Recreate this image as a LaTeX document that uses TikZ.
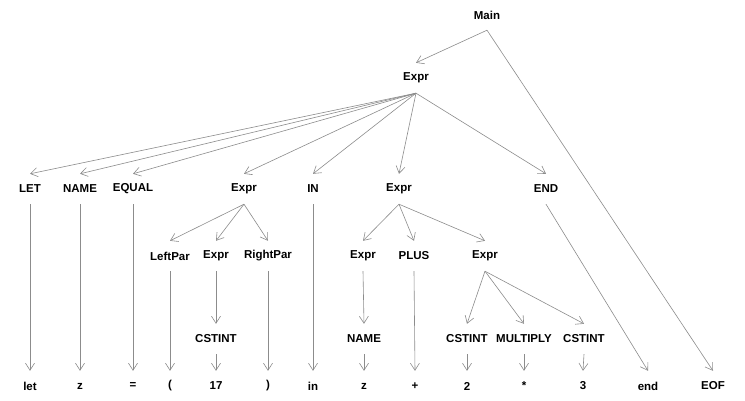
\documentclass[tikz,border=0pt]{standalone}
\usepackage{fontspec}
\setmainfont{Liberation Sans}
\usetikzlibrary{arrows.meta}
\tikzset{
  tn/.style={inner sep=0pt, minimum height=30pt, font=\fontsize{11.5}{12}\selectfont\bfseries, text=black},
  edge/.style={draw=black!45, line width=0.6pt, -{Straight Barb[length=7pt,width=9pt]}}
}
\begin{document}
\begin{tikzpicture}[x=1pt,y=-1pt]
\useasboundingbox[fill=white] (0,0) rectangle (745,401);
% level 0/1
\node[tn] (main) at (487,15) {Main};
\node[tn] (e1) at (416,78) {Expr};
% level 2
\node[tn] (LET) at (30,189) {LET};
\node[tn] (NAME) at (80,189) {NAME};
\node[tn] (EQUAL) at (133,189) {EQUAL};
\node[tn] (e2) at (244,189) {Expr};
\node[tn] (IN) at (313,189) {IN};
\node[tn] (e3) at (399,189) {Expr};
\node[tn] (END) at (546,189) {END};
% level 3
\node[tn] (lp) at (170,256) {LeftPar};
\node[tn] (e4) at (216,256) {Expr};
\node[tn] (rp) at (268,256) {RightPar};
\node[tn] (e5) at (363,256) {Expr};
\node[tn] (plus) at (414,256) {PLUS};
\node[tn] (e6) at (485,256) {Expr};
% level 4
\node[tn] (c1) at (216,339) {CSTINT};
\node[tn] (nm) at (364,339) {NAME};
\node[tn] (c2) at (467,339) {CSTINT};
\node[tn] (mul) at (524,339) {MULTIPLY};
\node[tn] (c3) at (584,339) {CSTINT};
% leaves
\node[tn] (tlet) at (30,386) {let};
\node[tn] (tz1) at (80,386) {z};
\node[tn] (teq) at (133,386) {=};
\node[tn] (tlp) at (170,386) {(};
\node[tn] (t17) at (216,386) {17};
\node[tn] (trp) at (268,386) {)};
\node[tn] (tin) at (313,386) {in};
\node[tn] (tz2) at (364,386) {z};
\node[tn] (tplus) at (415,386) {+};
\node[tn] (t2) at (467,386) {2};
\node[tn] (tmul) at (524,386) {*};
\node[tn] (t3) at (583,386) {3};
\node[tn] (tend) at (648,386) {end};
\node[tn] (teof) at (713,386) {EOF};
% edges
\foreach \a/\b in {main/e1, main/teof,
  e1/LET, e1/NAME, e1/EQUAL, e1/e2, e1/IN, e1/e3, e1/END,
  LET/tlet, NAME/tz1, EQUAL/teq, IN/tin, END/tend,
  e2/lp, e2/e4, e2/rp, e3/e5, e3/plus, e3/e6,
  lp/tlp, rp/trp, e4/c1, c1/t17, plus/tplus,
  e5/nm, nm/tz2, e6/c2, e6/mul, e6/c3,
  c2/t2, mul/tmul, c3/t3}
  \draw[edge] (\a.south) -- (\b.north);
\end{tikzpicture}
\end{document}
